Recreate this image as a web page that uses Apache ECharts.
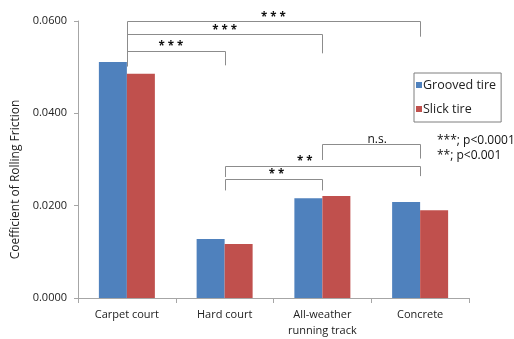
<!DOCTYPE html>
<html>
<head>
<meta charset="utf-8">
<script src="https://cdn.jsdelivr.net/npm/echarts@6/dist/echarts.min.js"></script>
<style>
html,body{margin:0;padding:0;background:#fff;}
#c{width:514px;height:339px;}
</style>
</head>
<body>
<div id="c"></div>
<script>
const categories = ['Carpet court', 'Hard court', 'All-weather\nrunning track', 'Concrete'];
const seriesNames = ['Grooved tire', 'Slick tire'];
const grooved = [0.0511, 0.0128, 0.0216, 0.0208];
const slick = [0.0486, 0.0117, 0.0221, 0.0190];
const yTicks = { min: 0, max: 0.06, interval: 0.02 };
// significance brackets: category indices, bar level, leg ends (data units), label, label position along bracket
const bracketFrom = [0, 0, 0, 2, 1, 1];
const bracketTo = [3, 2, 1, 3, 3, 2];
const bracketLevel = [0.0599, 0.0571, 0.0536, 0.0333, 0.0286, 0.0258];
const bracketFromEnd = [0.0502, 0.0502, 0.0502, 0.0299, 0.0262, 0.0233];
const bracketToEnd = [0.0566, 0.0530, 0.0504, 0.0302, 0.0264, 0.0233];
const bracketLabel = ['* * *', '* * *', '* * *', 'n.s.', '* *', '* *'];
const bracketLabelAt = [0.5, 0.5, 0.45, 0.56, 0.41, 0.53];
const noteLines = ['***; p<0.0001', '**; p<0.001'];

const FONT = '"Open Sans", "Noto Sans", sans-serif';
const chart = echarts.init(document.getElementById('c'), null, { renderer: 'canvas' });
chart.setOption({
  animation: false,
  backgroundColor: '#fff',
  grid: { left: 78, right: 45, top: 21, bottom: 38, containLabel: false },
  legend: {
    data: seriesNames,
    orient: 'vertical',
    left: 414, top: 73,
    icon: 'rect',
    itemWidth: 6, itemHeight: 6, itemGap: 10,
    padding: [5, 5, 6, 2],
    borderColor: '#7f7f7f', borderWidth: 1,
    textStyle: { fontFamily: FONT, fontSize: 12.5, color: '#222', lineHeight: 14, padding: [0, 0, 0, -4] }
  },
  xAxis: {
    type: 'category',
    data: categories,
    axisLine: { show: true, lineStyle: { color: '#a6a6a6', width: 1 } },
    axisTick: { show: true, length: 5, lineStyle: { color: '#a6a6a6' } },
    axisLabel: { fontFamily: FONT, fontSize: 11, color: '#222', margin: 9, lineHeight: 16, interval: 0 }
  },
  yAxis: {
    type: 'value',
    min: yTicks.min, max: yTicks.max, interval: yTicks.interval,
    name: 'Coefficient of Rolling Friction',
    nameLocation: 'middle',
    nameGap: 48,
    nameTextStyle: { fontFamily: FONT, fontSize: 12, color: '#222', padding: [0, 40, 0, 0] },
    axisLine: { show: true, lineStyle: { color: '#a6a6a6', width: 1 } },
    axisTick: { show: true, length: 4, lineStyle: { color: '#a6a6a6' } },
    splitLine: { show: false },
    axisLabel: { fontFamily: FONT, fontSize: 11, color: '#222', margin: 11, formatter: v => v.toFixed(4) }
  },
  series: [
    { name: seriesNames[0], type: 'bar', data: grooved, barWidth: 28, barGap: '0%', itemStyle: { color: '#4F81BD' } },
    { name: seriesNames[1], type: 'bar', data: slick, barWidth: 28, barGap: '0%', itemStyle: { color: '#C0504D' } }
  ]
});

function px(cat, val) { return chart.convertToPixel({ gridIndex: 0 }, [cat, val]); }
const crisp = v => Math.round(v) + 0.5;
const elements = [];
for (let i = 0; i < bracketFrom.length; i++) {
  const a0 = px(bracketFrom[i], bracketFromEnd[i]);
  const a1 = px(bracketFrom[i], bracketLevel[i]);
  const b1 = px(bracketTo[i], bracketLevel[i]);
  const b0 = px(bracketTo[i], bracketToEnd[i]);
  elements.push({
    type: 'polyline',
    shape: { points: [[crisp(a0[0]), a0[1]], [crisp(a1[0]), crisp(a1[1])], [crisp(b1[0]), crisp(b1[1])], [crisp(b0[0]), b0[1]]] },
    style: { stroke: '#8c8c8c', lineWidth: 1, fill: null },
    silent: true
  });
  const isNs = bracketLabel[i] === 'n.s.';
  elements.push({
    type: 'text',
    x: a1[0] + (b1[0] - a1[0]) * bracketLabelAt[i],
    y: a1[1] - (isNs ? 4.5 : 4),
    style: { text: bracketLabel[i], fill: '#111', align: 'center', verticalAlign: 'middle',
      font: (isNs ? '12px ' : 'bold 11.5px ') + FONT },
    silent: true
  });
}
noteLines.forEach((t, k) => {
  elements.push({
    type: 'text', x: 437, y: 141 + k * 15,
    style: { text: t, fill: '#111', align: 'left', verticalAlign: 'middle', font: '12px ' + FONT },
    silent: true
  });
});
chart.setOption({ graphic: elements });
</script>
</body>
</html>
